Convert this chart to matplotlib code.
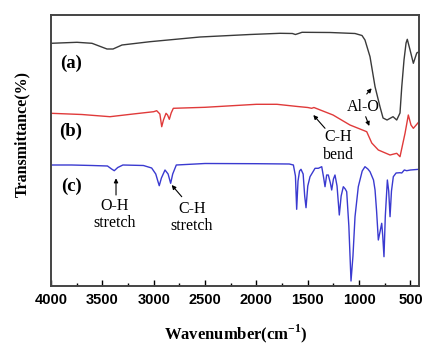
"""FTIR spectra of (a), (b), (c) stacked with band annotations."""

import matplotlib
matplotlib.use("Agg")
import matplotlib.pyplot as plt

# wavenumber (cm-1) / transmittance (arbitrary offset units)
wn_a = [4000, 3747, 3601, 3455, 3396, 3309, 3036, 2549, 2062, 1770, 1650, 1620,
        1590, 1556, 1283, 1040, 972, 943, 894, 845, 797, 767, 728, 670, 634,
        602, 585, 563, 543, 531, 504, 472, 439, 417]
t_a = [242.7, 243.7, 242.7, 237, 237, 241, 244.3, 249, 251.5, 252.7, 252.5, 251.5,
       252.5, 253.7, 253.5, 252.5, 250.5, 246, 229.3, 199.3, 179.3, 168, 166,
       169.3, 166, 173, 199, 226, 243, 246.7, 236, 222.7, 233, 234.3]

wn_b = [4000, 3700, 3426, 3200, 3000, 2971, 2940, 2922, 2905, 2880, 2865, 2848,
        2830, 2809, 2500, 2000, 1800, 1600, 1500, 1462, 1440, 1254, 1089, 926,
        877, 813, 699, 634, 602, 553, 521, 495, 472, 417]
t_b = [172.7, 171.5, 169.3, 172, 174.3, 175.3, 172, 159.3, 166, 172.7, 171, 166.7,
       173, 177.7, 178.7, 181.7, 181.7, 179.5, 178.5, 177.7, 178.5, 171, 161,
       154.3, 143, 136, 131, 132.7, 129.3, 152.7, 171, 161, 157.7, 164.3]

wn_c = [4000, 3800, 3600, 3450, 3410, 3384, 3350, 3300, 3100, 3020, 2980, 2960,
        2946, 2925, 2890, 2860, 2835, 2815, 2780, 2500, 2000, 1680, 1640, 1620,
        1608, 1595, 1580, 1566, 1545, 1530, 1517, 1500, 1478, 1429, 1397, 1364,
        1345, 1332, 1316, 1300, 1280, 1267, 1250, 1235, 1215, 1193, 1175, 1154,
        1135, 1121, 1100, 1079, 1060, 1040, 1008, 970, 943, 915, 894, 860, 845,
        830, 813, 795, 780, 770, 758, 745, 725, 712, 699, 685, 667, 640, 602,
        585, 560, 537, 500, 417]
t_c = [121, 121, 120.5, 120, 117, 115.3, 118.5, 121, 120.5, 118, 112, 105,
       100.3, 108, 116, 112, 102.7, 112, 121, 122.5, 122.3, 122, 121, 110,
       76.7, 105, 115, 116.7, 112, 90, 78.3, 100, 109.3, 117.7, 117.7, 119.3,
       108, 99.3, 111, 111, 103, 96, 107, 111, 100, 71, 90, 99.3,
       97, 94.3, 60, 5, 30, 69.3, 99.3, 115, 119.3, 117, 114.3, 106, 96,
       75, 46, 55, 62.7, 50, 29.3, 70, 106, 95, 69.3, 95, 109.3, 113, 113.3,
       113, 116, 115.3, 116, 116.7]

x_ticks = [4000, 3500, 3000, 2500, 2000, 1500, 1000, 500]

SERIF = ["Liberation Serif", "DejaVu Serif"]
plt.rcParams["mathtext.fontset"] = "custom"
plt.rcParams["mathtext.rm"] = "Liberation Serif:bold"
plt.rcParams["mathtext.bf"] = "Liberation Serif:bold"

fig = plt.figure(figsize=(4.42, 3.5), dpi=100)
ax = fig.add_axes([51 / 442, 64 / 350, 368 / 442, 271 / 350])

ax.plot(wn_a, t_a, color="#3a3a3a", lw=1.0)
ax.plot(wn_b, t_b, color="#e03a3a", lw=1.0)
ax.plot(wn_c, t_c, color="#3a3ad0", lw=1.0)

ax.set_xlim(4000, 417)
ax.set_ylim(0, 271)
ax.set_yticks([])
ax.set_xticks(x_ticks)
ax.set_xticks(range(3750, 400, -500), minor=True)
ax.tick_params(axis="x", which="major", direction="in", length=4, width=1,
               labelsize=10.5, pad=5)
ax.tick_params(axis="x", which="minor", direction="in", length=2.5, width=1)
for lab in ax.get_xticklabels():
    lab.set_fontfamily("Liberation Sans")
    lab.set_fontweight("bold")
for sp in ax.spines.values():
    sp.set_color("#444444")
    sp.set_linewidth(1.4)

ax.set_xlabel(r"Wavenumber(cm$^{-1}$)", family=SERIF, fontweight="bold",
              fontsize=12)
ax.xaxis.set_label_coords(0.503, -0.135)
ax.set_ylabel("Transmittance(%)", family=SERIF, fontweight="bold", fontsize=11.5)
ax.yaxis.set_label_coords(-0.057, 0.561)

for lbl, yy in [("(a)", 223), ("(b)", 155), ("(c)", 100)]:
    ax.text(3805, yy, lbl, family=SERIF, fontweight="bold", fontsize=13.5,
            ha="center", va="center")

arrow = dict(arrowstyle="-|>", lw=0.8, color="black", mutation_scale=6,
             shrinkA=0, shrinkB=0)
tkw = dict(family=SERIF, fontsize=11.5, ha="center", va="center", linespacing=1.1)

ax.text(962, 179.3, "Al-O", **tkw)
ax.annotate("", xy=(878, 197.7), xytext=(926, 192), arrowprops=arrow)
ax.annotate("", xy=(901, 160), xytext=(936, 169.3), arrowprops=arrow)

ax.text(1203, 140, "C-H\nbend", **tkw)
ax.annotate("", xy=(1446, 171), xytext=(1332, 157.7), arrowprops=arrow)

ax.text(3377, 71.5, "O-H\nstretch", **tkw)
ax.annotate("", xy=(3367, 107.7), xytext=(3367, 91), arrowprops=arrow)

ax.text(2630, 68.5, "C-H\nstretch", **tkw)
ax.annotate("", xy=(2825, 101), xytext=(2727, 89.3), arrowprops=arrow)

fig.savefig("out.png", dpi=100)
